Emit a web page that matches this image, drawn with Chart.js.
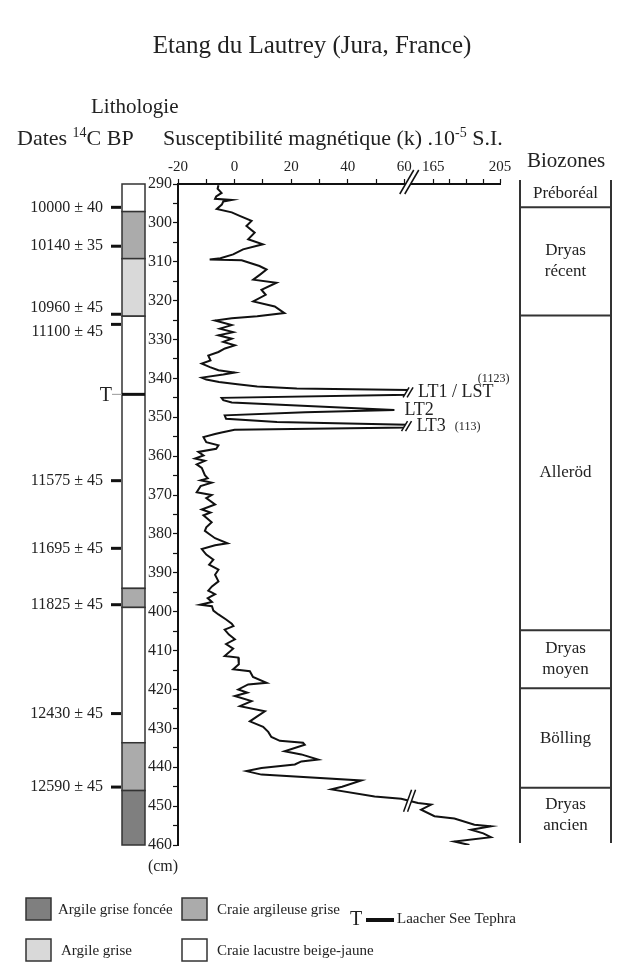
<!DOCTYPE html>
<html>
<head>
<meta charset="utf-8">
<script src="https://cdn.jsdelivr.net/npm/chart.js@4.4.1/dist/chart.umd.min.js"></script>
<style>
  html, body { margin: 0; padding: 0; background: #fff; }
  canvas { display: block; }
</style>
</head>
<body>
<canvas id="myChart" width="625" height="969"></canvas>
<script>
const ctx = document.getElementById("myChart");

// susceptibility curve (depth in cm, k in 10^-5 SI)
const depthCm = [
  290.3, 291.2, 292.3, 293.2, 293.8, 294.1, 294.5, 295.3, 296.4, 297.3,
  298.2, 299.5, 300.8, 302.5, 304.2, 305.5, 306.8, 308.1, 309.1, 309.4,
  309.6, 311.1, 312.0, 313.3, 314.6, 315.4, 317.2, 318.5, 320.2, 321.5,
  323.2, 324.0, 324.5, 325.1, 326.3, 327.2, 328.1, 328.9, 329.8, 330.6,
  331.5, 332.3, 333.2, 334.1, 335.4, 336.2, 337.1, 337.9, 338.5, 339.0,
  339.8, 340.3, 340.9, 341.5, 342.1, 342.6, 343.0, 344.2, 345.0, 345.6,
  346.2, 348.1, 348.7, 349.5, 350.4, 351.2, 351.9, 352.6, 353.2, 353.9,
  354.3, 355.1, 356.4, 357.2, 358.1, 358.9, 359.8, 360.6, 361.2, 362.1,
  363.0, 364.9, 365.7, 366.2, 366.8, 367.7, 369.3, 370.0, 370.8, 372.4,
  373.7, 374.5, 375.2, 377.0, 378.3, 379.2, 380.0, 381.1, 382.4, 382.9,
  383.9, 385.3, 386.6, 387.9, 389.2, 390.5, 392.2, 393.5, 394.6, 395.5,
  396.5, 397.5, 398.2, 398.6, 399.7, 400.7, 402.0, 403.1, 403.7, 404.6,
  405.9, 407.1, 408.3, 409.5, 411.4, 411.8, 413.5, 414.8, 415.3, 416.8,
  418.3, 418.7, 420.0, 420.8, 421.7, 423.0, 424.3, 425.6, 426.9, 428.2,
  429.6, 430.9, 432.2, 433.2, 433.7, 434.2, 435.9, 436.7, 438.0, 438.5,
  439.3, 440.2, 441.0, 441.9, 443.4, 445.0, 445.7, 447.5, 448.1, 449.2,
  449.6, 450.9, 452.6, 453.2, 454.8, 455.2, 456.1, 457.0, 458.0, 459.1,
  460.0
];
const kValues = [
  -5.7, -6, -4.6, -6.5, -6.9, -1, -4, -4.5, -6.3, -1,
  1.8, 6, 4.2, 7.1, 4.8, 10, 3, -0.5, -5, -8.8,
  2.5, 8.8, 11.3, 9, 6.6, 14.8, 9.5, 11, 6.6, 14.2,
  17.6, 8, -1, -6.9, -1, -5.2, -0.5, -5.7, -1, -4,
  0.1, -3.4, -5.7, -9.3, -8.5, -11.6, -8.7, -5.7, 0, -4,
  -11.6, -10, -5.5, 1, 8, 22, 1123, 1123, -4.6, -4,
  -1, 56.5, 25, -3.5, -3, 15, 113, 113, 0, -4.6,
  -6.9, -11, -10, -5.7, -6.5, -12.8, -11, -14, -10.5, -13.4,
  -11.6, -10.5, -9.5, -12, -8.1, -12, -13.4, -8.1, -10, -6.9,
  -11.6, -8.5, -11, -8.1, -10, -10.5, -9, -6.9, -2.5, -6.9,
  -11.6, -10, -7.5, -9, -5.7, -6.9, -5.7, -8, -9.3, -6.9,
  -9.5, -8, -12.2, -8, -7.5, -5.7, -3, -1, -0.4, -3.5,
  -2, 0.1, -3, -0.5, -3.5, 1.3, 1.5, -0.5, 5.4, 6.5,
  11.3, 4.8, 1.3, 4.5, 0.1, 6, 1.9, 10.7, 8, 5.4,
  10.1, 11.9, 13, 16, 24.2, 24.8, 17.7, 23.6, 29.5, 23.6,
  21.3, 9.5, 4.2, 9.5, 44.8, 38, 34.2, 49.5, 58.9, 155.9,
  163.8, 157.8, 165.8, 177.7, 189.7, 199.6, 187.7, 195, 199.6, 177.7,
  186.7
];

// top axis, broken between 60 and 165
const xTickValues = [-20, -10, 0, 10, 20, 30, 40, 50, 60, 165, 175, 185, 195, 205];
const xTickLabels = ["-20", "", "0", "", "20", "", "40", "", "60", "165", "", "", "", "205"];

// lithology column
const lithoTop = [290, 297.1, 309.2, 324, 394, 398.9, 433.7, 446];
const lithoBottom = [297.1, 309.2, 324, 394, 398.9, 433.7, 446, 460];
const lithoType = [3, 1, 2, 3, 1, 3, 1, 0];
const lithoNames = ["Argile grise foncée", "Craie argileuse grise", "Argile grise", "Craie lacustre beige-jaune"];
const lithoColors = ["#7f7f7f", "#ababab", "#d9d9d9", "#ffffff"];

// radiocarbon dates
const dateDepths = [296, 306, 323.5, 326.1, 366.3, 383.7, 398.2, 426.2, 445.1];
const dateLabels = ["10000 ± 40", "10140 ± 35", "10960 ± 45", "11100 ± 45", "11575 ± 45",
  "11695 ± 45", "11825 ± 45", "12430 ± 45", "12590 ± 45"];
const tephraDepth = 344.1;

// biozones
const zoneBounds = [289, 296, 323.8, 404.8, 419.7, 445.3, 459.5];
const zoneNames = [["Préboréal"], ["Dryas", "récent"], ["Alleröd"], ["Dryas", "moyen"], ["Bölling"], ["Dryas", "ancien"]];

// tephra peaks
const peakDepths = [343.6, 348.1, 352.25];
const peakValues = [1123, 56.5, 113];
const peakNames = ["LT1 / LST", "LT2", "LT3"];

const F = "'Liberation Serif', 'Times New Roman', serif";
const INK = "#222";

// axis break: values above 60 are squeezed, 150+ continue on the compressed right part
function toU(v) {
  if (v <= 60) return v;
  if (v > 205) return 61.33;
  if (v < 150) return 60 + (v - 60) / 90 * 1.33;
  return 61.33 + (v - 150) * 0.5908;
}

function text(c, str, x, y, size, align, base) {
  c.font = size + "px " + F;
  c.textAlign = align || "left";
  c.textBaseline = base || "alphabetic";
  c.fillStyle = INK;
  c.fillText(str, x, y);
}

function runs(c, parts, x, y) {
  c.textAlign = "left";
  c.textBaseline = "alphabetic";
  c.fillStyle = INK;
  parts.forEach(([s, size, rise]) => {
    c.font = size + "px " + F;
    c.fillText(s, x, y - rise);
    x += c.measureText(s).width;
  });
}

function drawBreak(c, x, y, h, s, gap) {
  c.save();
  c.fillStyle = "#fff";
  c.beginPath();
  c.moveTo(x - gap - s, y + h / 2);
  c.lineTo(x - gap + s, y - h / 2);
  c.lineTo(x + gap + s, y - h / 2);
  c.lineTo(x + gap - s, y + h / 2);
  c.closePath();
  c.fill();
  c.strokeStyle = "#111";
  c.lineWidth = 1.5;
  [-gap, gap].forEach((dx) => {
    c.beginPath();
    c.moveTo(x + dx - s, y + h / 2);
    c.lineTo(x + dx + s, y - h / 2);
    c.stroke();
  });
  c.restore();
}

const decor = {
  id: "decor",
  afterDatasetsDraw(chart) {
    const c = chart.ctx;
    const xs = chart.scales.x;
    const ys = chart.scales.y;
    const off = (v) => v > 205 || (v > 60 && v < 150);

    // break marks where the curve goes off scale
    let i = 0;
    while (i < kValues.length) {
      if (off(kValues[i])) {
        let j = i;
        while (j + 1 < kValues.length && off(kValues[j + 1])) j++;
        const d = (depthCm[i] + depthCm[j]) / 2;
        drawBreak(c, xs.getPixelForValue(toU(kValues[i])), ys.getPixelForValue(d), 10, 3, 2);
        i = j + 1;
      } else {
        i++;
      }
    }
    // break where the curve jumps to the right-hand part of the axis
    for (let k = 1; k < kValues.length; k++) {
      if (kValues[k - 1] <= 60 && kValues[k] >= 150 && kValues[k] <= 205) {
        const x = (xs.getPixelForValue(toU(kValues[k - 1])) + xs.getPixelForValue(toU(kValues[k]))) / 2;
        const y = (ys.getPixelForValue(depthCm[k - 1]) + ys.getPixelForValue(depthCm[k])) / 2;
        drawBreak(c, x, y, 22, 4, 2);
      }
    }

    // break on the top axis
    drawBreak(c, (xs.getPixelForValue(60) + xs.getPixelForValue(63.5)) / 2, xs.bottom - 2, 24, 7, 2.5);
  },
  afterDraw(chart) {
    const c = chart.ctx;
    const ys = chart.scales.y;
    c.save();

    // headings
    text(c, "Etang du Lautrey (Jura, France)", 312, 46, 25, "center", "middle");
    text(c, "Lithologie", 91, 113, 21);
    runs(c, [["Dates ", 22, 0], ["14", 14, 8], ["C BP", 22, 0]], 17, 145);
    runs(c, [["Susceptibilité magnétique (k) .10", 22, 0], ["-5", 14, 8], [" S.I.", 22, 0]], 163, 145);
    text(c, "Biozones", 527, 167, 21);
    text(c, "(cm)", 163, 867, 16, "center", "middle");

    // lithology column
    const colL = 122, colR = 145;
    c.strokeStyle = "#333";
    c.lineWidth = 1.5;
    lithoTop.forEach((top, k) => {
      const y0 = ys.getPixelForValue(top);
      const y1 = ys.getPixelForValue(lithoBottom[k]);
      c.fillStyle = lithoColors[lithoType[k]];
      c.fillRect(colL, y0, colR - colL, y1 - y0);
      c.strokeRect(colL, y0, colR - colL, y1 - y0);
    });

    // tephra marker
    const yt = ys.getPixelForValue(tephraDepth);
    c.strokeStyle = "#999";
    c.lineWidth = 1;
    c.beginPath(); c.moveTo(112, yt); c.lineTo(colL, yt); c.stroke();
    c.strokeStyle = "#111";
    c.lineWidth = 3;
    c.beginPath(); c.moveTo(colL, yt); c.lineTo(colR, yt); c.stroke();
    text(c, "T", 112, yt + 1, 20, "right", "middle");

    // 14C dates
    const ym = dateDepths.map((d) => ys.getPixelForValue(d));
    const yl = ym.slice();
    for (let k = 1; k < yl.length; k++) {
      if (ym[k] - ym[k - 1] < 20) {
        const mid = (ym[k] + ym[k - 1]) / 2;
        yl[k - 1] = mid - 12;
        yl[k] = mid + 12;
      }
    }
    c.strokeStyle = "#111";
    c.lineWidth = 3;
    ym.forEach((y, k) => {
      c.beginPath(); c.moveTo(111, y); c.lineTo(121, y); c.stroke();
      text(c, dateLabels[k], 103, yl[k], 16, "right", "middle");
    });

    // biozones
    const bl = 520, br = 611;
    const yTop = ys.getPixelForValue(zoneBounds[0]);
    const yBot = ys.getPixelForValue(zoneBounds[zoneBounds.length - 1]);
    c.strokeStyle = "#333";
    c.lineWidth = 2;
    c.beginPath();
    c.moveTo(bl, yTop); c.lineTo(bl, yBot);
    c.moveTo(br, yTop); c.lineTo(br, yBot);
    for (let k = 1; k < zoneBounds.length - 1; k++) {
      const y = ys.getPixelForValue(zoneBounds[k]);
      c.moveTo(bl, y); c.lineTo(br, y);
    }
    c.stroke();
    zoneNames.forEach((lines, k) => {
      const mid = (ys.getPixelForValue(zoneBounds[k]) + ys.getPixelForValue(zoneBounds[k + 1])) / 2;
      lines.forEach((ln, m) => {
        text(c, ln, (bl + br) / 2, mid + (m - (lines.length - 1) / 2) * 21, 17, "center", "middle");
      });
    });

    // peak labels
    const xs = chart.scales.x;
    peakNames.forEach((name, k) => {
      const x = xs.getPixelForValue(toU(peakValues[k])) + 10;
      const y = ys.getPixelForValue(peakDepths[k]);
      text(c, name, x, y, 18, "left", "middle");
      if (peakValues[k] > 60) {
        c.font = "18px " + F;
        const w = c.measureText(name).width;
        if (k === 0) text(c, "(" + peakValues[k] + ")", x + w + 16, y - 14, 12, "right", "middle");
        else text(c, "(" + peakValues[k] + ")", x + w + 9, y + 1, 12, "left", "middle");
      }
    });

    // legend
    const boxes = [[26, 898, 0], [182, 898, 1], [26, 939, 2], [182, 939, 3]];
    const labelX = [58, 217, 61, 217];
    c.strokeStyle = "#333";
    c.lineWidth = 1.5;
    boxes.forEach(([x, y, t], k) => {
      c.fillStyle = lithoColors[t];
      c.fillRect(x, y, 25, 22);
      c.strokeRect(x, y, 25, 22);
      text(c, lithoNames[t], labelX[k], y + 12, 15, "left", "middle");
    });
    text(c, "T", 350, 920, 20, "left", "middle");
    c.fillStyle = "#111";
    c.fillRect(366, 918, 28, 4);
    text(c, "Laacher See Tephra", 397, 919, 15, "left", "middle");

    c.restore();
  }
};

new Chart(ctx, {
  type: "scatter",
  data: {
    datasets: [
      {
        label: "k",
        data: depthCm.map((d, i) => ({ x: toU(kValues[i]), y: d })),
        showLine: true,
        borderColor: "#111",
        borderWidth: 2,
        pointRadius: 0,
        tension: 0,
      },
    ],
  },
  options: {
    responsive: false,
    animation: false,
    devicePixelRatio: 1,
    layout: { padding: { left: 138, top: 154, right: 125, bottom: 124 } },
    plugins: { legend: { display: false }, tooltip: { enabled: false } },
    scales: {
      x: {
        type: "linear",
        position: "top",
        min: -20,
        max: toU(205),
        afterBuildTicks: (s) => {
          s.ticks = xTickValues.map((v) => ({ value: toU(v) }));
        },
        afterFit: (s) => {
          s.height = 30;
        },
        ticks: {
          autoSkip: false,
          maxRotation: 0,
          padding: 3,
          color: INK,
          font: { family: F, size: 15 },
          callback: (val, i) => xTickLabels[i],
        },
        grid: { drawOnChartArea: false, tickLength: 5, color: "#111", tickWidth: 1.2 },
        border: { color: "#111", width: 2 },
      },
      y: {
        type: "linear",
        reverse: true,
        min: 290,
        max: 460,
        afterFit: (s) => {
          s.width = 40;
        },
        ticks: {
          stepSize: 5,
          autoSkip: false,
          padding: 1,
          color: INK,
          font: { family: F, size: 16 },
          callback: (v) => (v % 10 === 0 ? String(v) : ""),
        },
        grid: { drawOnChartArea: false, tickLength: 5, color: "#111", tickWidth: 1.2 },
        border: { color: "#111", width: 2 },
      },
    },
  },
  plugins: [decor],
});
</script>
</body>
</html>
